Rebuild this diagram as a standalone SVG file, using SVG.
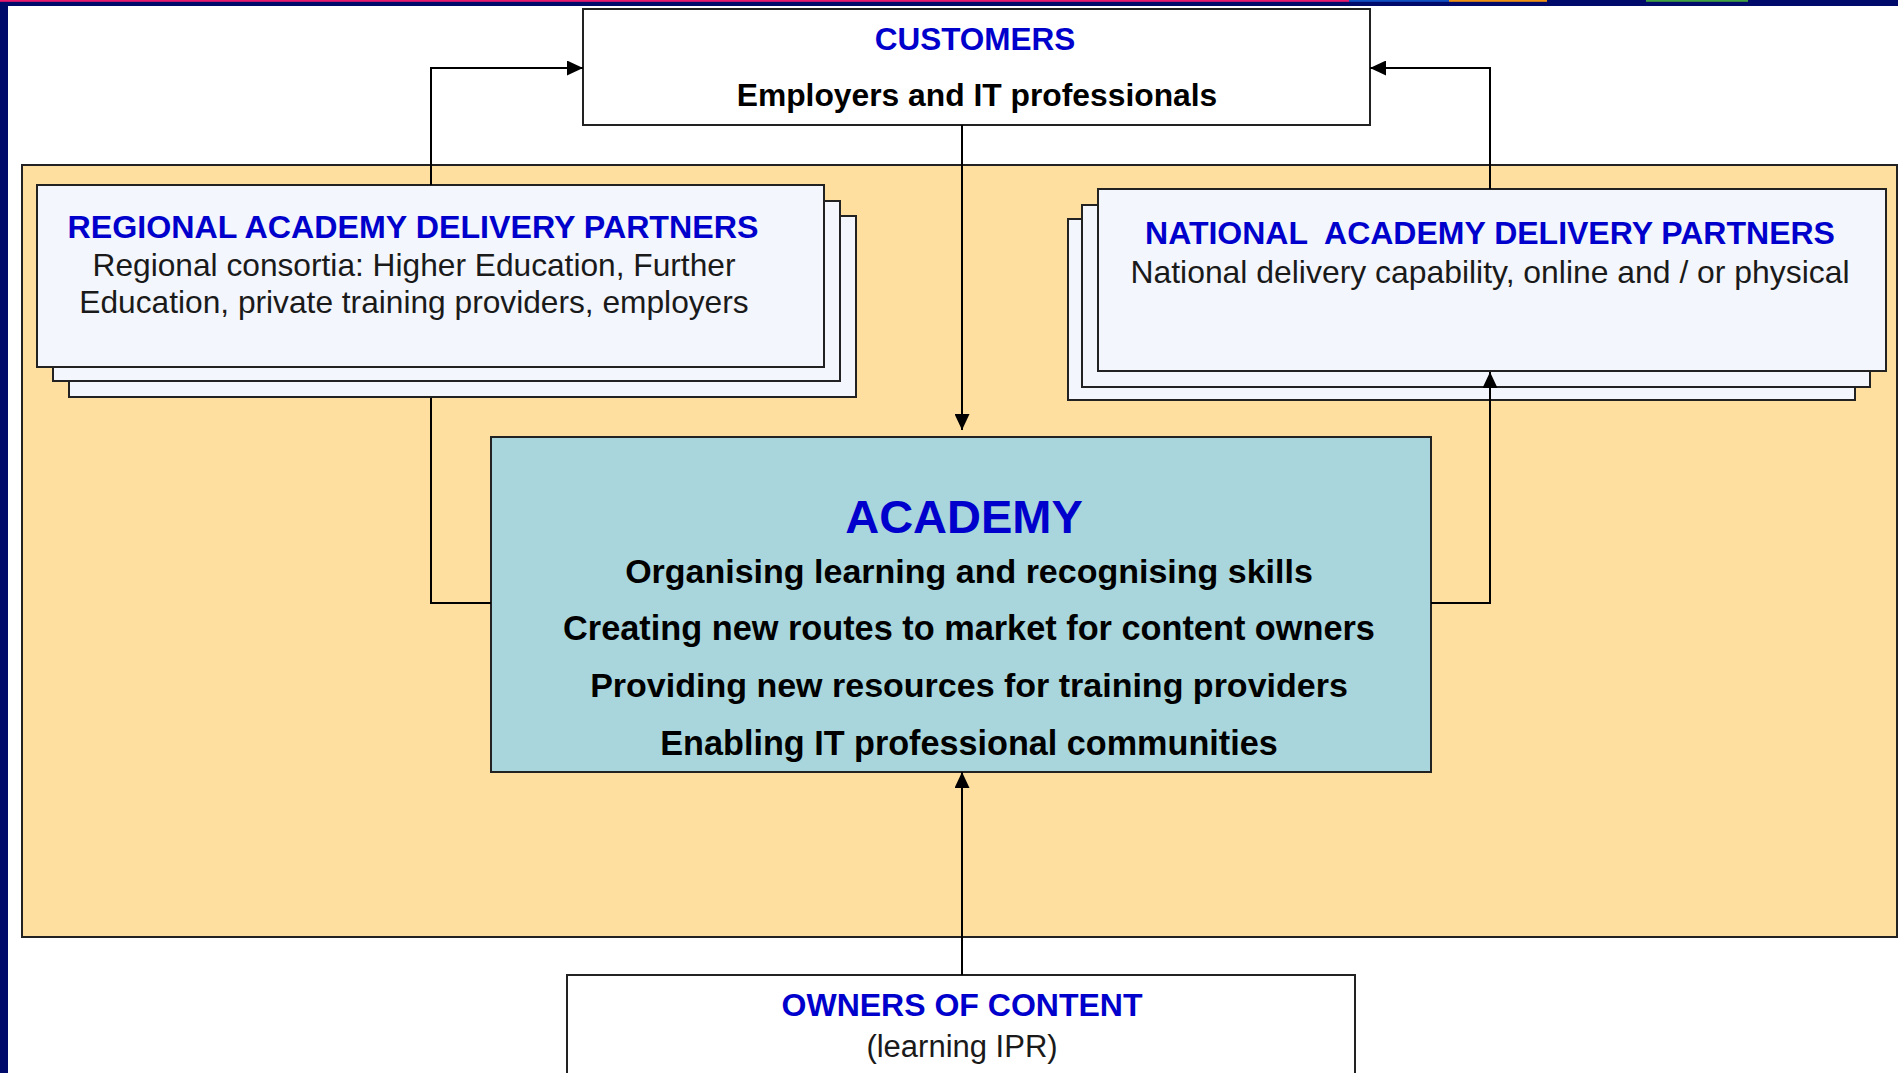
<svg xmlns="http://www.w3.org/2000/svg" width="1898" height="1073" viewBox="0 0 1898 1073">
<defs>
<style>
.t{font-family:"Liberation Sans",Arial,sans-serif;text-anchor:middle}
.title{font-weight:bold;fill:#0000CC}
.body{fill:#1a1a1a}
.bold{font-weight:bold;fill:#000}
.box{stroke:#222;stroke-width:2}
.card{fill:#F3F6FC;stroke:#222;stroke-width:2}
.conn{fill:none;stroke:#000;stroke-width:2}
</style>
<marker id="arr" markerUnits="userSpaceOnUse" markerWidth="16" markerHeight="15" refX="16" refY="7.5" orient="auto">
<path d="M0,0 L16,7.5 L0,15 z" fill="#000"/>
</marker>
</defs>
<rect x="0" y="0" width="1898" height="1073" fill="#fff"/>
<g id="frame">
<rect x="0" y="0" width="1898" height="6" fill="#000A6B"/>
<rect x="0" y="0" width="8" height="1073" fill="#000A6B"/>
<rect x="0" y="0" width="1349" height="1.8" fill="#E8186C"/>
<rect x="1349" y="0" width="100" height="1.8" fill="#1050C0"/>
<rect x="1449" y="0" width="98" height="1.8" fill="#F09010"/>
<rect x="1646" y="0" width="102" height="1.8" fill="#40A040"/>
</g>
<g id="panel">
<rect x="22" y="165" width="1875" height="772" fill="#FEDF9F" class="box"/>
</g>
<g id="customers">
<rect x="583" y="9" width="787" height="116" fill="#fff" class="box"/>
<text class="t title" x="975" y="50" font-size="31.5">CUSTOMERS</text>
<text class="t bold" x="977" y="106" font-size="31.8">Employers and IT professionals</text>
</g>
<g id="regional">
<rect x="69" y="216" width="787" height="181" class="card"/>
<rect x="53" y="201" width="787" height="180" class="card"/>
<rect x="37" y="185" width="787" height="182" class="card"/>
<text class="t title" x="413" y="238" font-size="32.2">REGIONAL ACADEMY DELIVERY PARTNERS</text>
<text class="t body" x="414" y="276" font-size="31.7">Regional consortia: Higher Education, Further</text>
<text class="t body" x="414" y="313" font-size="31.7">Education, private training providers, employers</text>
</g>
<g id="national">
<rect x="1068" y="219" width="787" height="181" class="card"/>
<rect x="1082" y="205" width="788" height="182" class="card"/>
<rect x="1098" y="189" width="788" height="182" class="card"/>
<text class="t title" x="1490" y="244" font-size="32" xml:space="preserve">NATIONAL  ACADEMY DELIVERY PARTNERS</text>
<text class="t body" x="1490" y="283" font-size="31.9">National delivery capability, online and / or physical</text>
</g>
<g id="academy">
<rect x="491" y="437" width="940" height="335" fill="#A8D6DC" class="box"/>
<text class="t title" x="964" y="533" font-size="47">ACADEMY</text>
<text class="t bold" x="969" y="583" font-size="34">Organising learning and recognising skills</text>
<text class="t bold" x="969" y="640" font-size="34.3">Creating new routes to market for content owners</text>
<text class="t bold" x="969" y="697" font-size="34">Providing new resources for training providers</text>
<text class="t bold" x="969" y="755" font-size="34.2">Enabling IT professional communities</text>
</g>
<g id="owners">
<rect x="567" y="975" width="788" height="110" fill="#fff" class="box"/>
<text class="t title" x="962" y="1016" font-size="32">OWNERS OF CONTENT</text>
<text class="t body" x="962" y="1057" font-size="31">(learning IPR)</text>
</g>
<g id="connectors">
<path class="conn" d="M962,125 V430" marker-end="url(#arr)"/>
<path class="conn" d="M962,975 V772" marker-end="url(#arr)"/>
<path class="conn" d="M491,603 H431 V398 M431,185 V68 H583" marker-end="url(#arr)"/>
<path class="conn" d="M1431,603 H1490 V372" marker-end="url(#arr)"/>
<path class="conn" d="M1490,189 V68 H1370" marker-end="url(#arr)"/>
</g>
</svg>
